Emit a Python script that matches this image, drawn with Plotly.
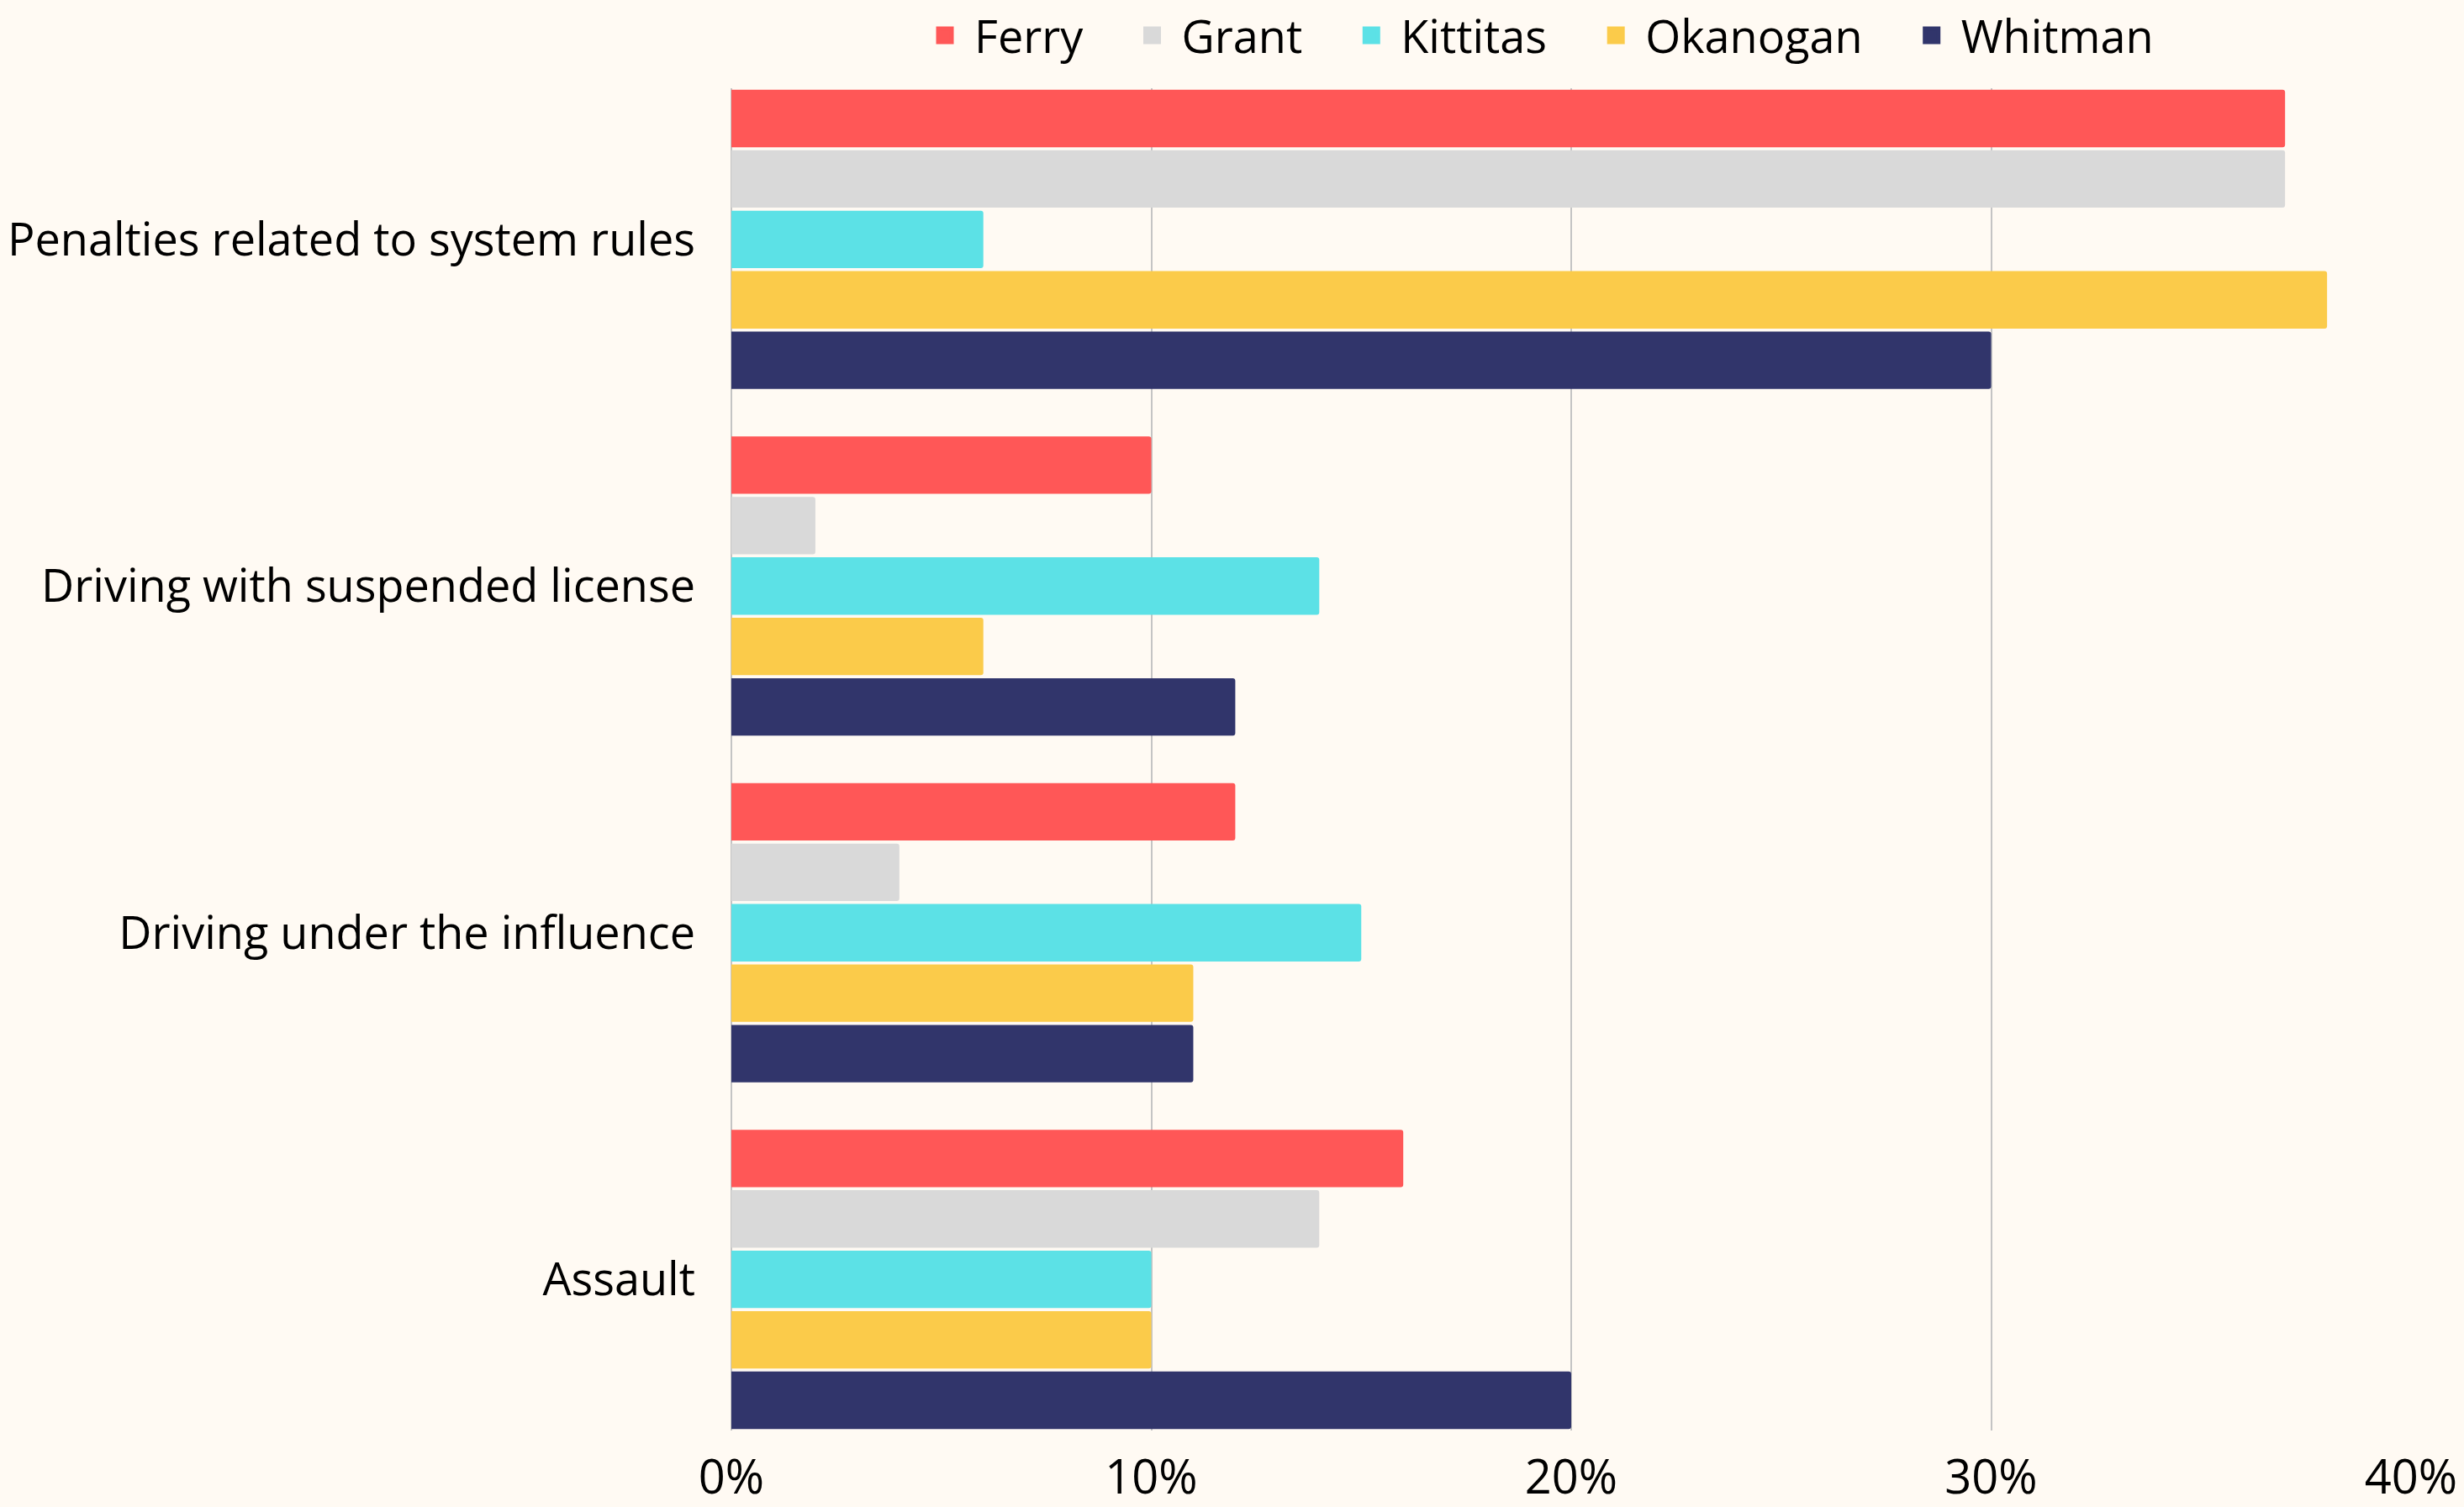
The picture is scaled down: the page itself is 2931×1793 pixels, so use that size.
import plotly.graph_objects as go

categories = ["Penalties related to system rules", "Driving with suspended license",
              "Driving under the influence", "Assault"]
series_names = ["Ferry", "Grant", "Kittitas", "Okanogan", "Whitman"]
ferry = [37, 10, 12, 16]
grant = [37, 2, 4, 14]
kittitas = [6, 14, 15, 10]
okanogan = [38, 6, 11, 10]
whitman = [30, 12, 11, 20]
tick_vals = [0, 10, 20, 30, 40]
tick_text = ["0%", "10%", "20%", "30%", "40%"]

colors = ["#FF5757", "#D9D9D9", "#5CE1E6", "#FBCB4A", "#31356B"]
values = [ferry, grant, kittitas, okanogan, whitman]

FONT = "Open Sans"
BG = "#FFFAF3"
PAD = "\u00a0" * 3

fig = go.Figure()
for name, vals, col in zip(series_names, values, colors):
    fig.add_trace(go.Bar(
        y=categories, x=vals, name=name, orientation="h",
        marker=dict(color=col, line=dict(width=0), cornerradius=3),
        showlegend=False,
    ))
    # legend proxy with larger square
    fig.add_trace(go.Scatter(
        x=[None], y=[None], mode="markers", name=name + PAD,
        marker=dict(symbol="square", size=16, color=col, line=dict(color=col, width=5)),
        showlegend=True,
    ))

fig.update_layout(
    width=2931, height=1793,
    paper_bgcolor=BG, plot_bgcolor=BG,
    margin=dict(l=870, r=63, t=105, b=91, autoexpand=False),
    barmode="group", bargap=0.128, bargroupgap=0.05,
    font=dict(family=FONT, size=52, color="#000000"),
    legend=dict(orientation="h", x=0.49, xanchor="center", y=1.0655, yanchor="top",
                font=dict(size=54, family=FONT), itemsizing="trace",
                bgcolor="rgba(0,0,0,0)", tracegroupgap=0, itemwidth=60),
    xaxis=dict(range=[0, 40], tickvals=tick_vals, ticktext=tick_text,
               showgrid=True, gridcolor="#C4C4C4", gridwidth=1.5,
               zeroline=True, zerolinecolor="#C4C4C4", zerolinewidth=1.5,
               showline=False, ticks="", ticklabelstandoff=18,
               tickfont=dict(size=56, family=FONT)),
    yaxis=dict(type="category", categoryorder="array", categoryarray=categories,
               range=[3.436, -0.436], showgrid=False, zeroline=False,
               showline=False, ticks="", ticklabelstandoff=42,
               tickfont=dict(size=54, family=FONT)),
)

fig.write_html("out.html", config={"displayModeBar": False},
               post_script="document.body.style.margin='0';document.body.style.background='#FFFAF3';")
